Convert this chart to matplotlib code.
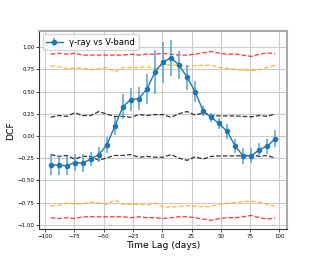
import matplotlib
matplotlib.use("Agg")
import matplotlib.pyplot as plt
import numpy as np

lags = [-95.3, -88.4, -81.6, -74.7, -67.9, -61.0, -54.2, -47.3, -40.5, -33.6,
        -26.8, -19.9, -13.1, -6.2, 0.6, 7.5, 14.3, 21.2, 28.0, 34.9,
        41.7, 48.6, 55.4, 62.3, 69.1, 76.0, 82.8, 89.7, 96.5]
dcf = [-0.325, -0.33, -0.335, -0.30, -0.305, -0.26, -0.21, -0.10, 0.11, 0.33,
       0.41, 0.42, 0.53, 0.72, 0.83, 0.88, 0.80, 0.66, 0.50, 0.28,
       0.21, 0.14, 0.05, -0.115, -0.225, -0.225, -0.155, -0.115, -0.03]
dcf_err = [0.11, 0.105, 0.105, 0.10, 0.10, 0.08, 0.085, 0.09, 0.10, 0.14,
           0.13, 0.13, 0.17, 0.25, 0.23, 0.20, 0.16, 0.14, 0.12, 0.06,
           0.05, 0.06, 0.08, 0.08, 0.09, 0.085, 0.07, 0.085, 0.10]
sig_black = [0.21, 0.23, 0.22, 0.26, 0.23, 0.23, 0.275, 0.245, 0.22, 0.22,
             0.21, 0.24, 0.23, 0.24, 0.24, 0.21, 0.25, 0.275, 0.235, 0.26,
             0.23, 0.225, 0.225, 0.225, 0.22, 0.215, 0.23, 0.22, 0.25]
sig_orange = [0.79, 0.78, 0.755, 0.765, 0.765, 0.745, 0.755, 0.77, 0.72, 0.77,
              0.77, 0.77, 0.78, 0.755, 0.80, 0.80, 0.795, 0.785, 0.79, 0.795,
              0.795, 0.77, 0.76, 0.75, 0.74, 0.735, 0.745, 0.77, 0.795]
sig_red = [0.92, 0.93, 0.92, 0.93, 0.91, 0.91, 0.91, 0.91, 0.91, 0.91,
           0.92, 0.91, 0.92, 0.92, 0.93, 0.92, 0.91, 0.91, 0.92, 0.935,
           0.95, 0.93, 0.92, 0.92, 0.91, 0.895, 0.92, 0.935, 0.925]

fig = plt.figure(figsize=(3.18, 2.58), dpi=100)
ax = fig.add_axes([0.124, 0.111, 0.777, 0.769])

ax.errorbar(lags, dcf, yerr=dcf_err, fmt='-o', color='#1f77b4', ms=3, lw=1.0,
            elinewidth=1.1, ecolor='#5a9fd4', label='γ-ray vs V-band', zorder=3)
lag_arr = np.array(lags)
for arr, col in [(sig_black, 'black'), (sig_orange, 'orange'), (sig_red, 'red')]:
    a = np.array(arr)
    ax.plot(lag_arr, a, '--', color=col, lw=0.9, alpha=0.8)
    ax.plot(lag_arr, -a, '--', color=col, lw=0.9, alpha=0.8)

ax.grid(True, color='#cccccc', lw=0.8)
ax.set_axisbelow(True)
ax.set_xticks([-100, -75, -50, -25, 0, 25, 50, 75, 100])
ax.set_yticks([-1.0, -0.75, -0.5, -0.25, 0.0, 0.25, 0.5, 0.75, 1.0])
ax.tick_params(labelsize=4.0, length=2, width=0.5, pad=1.5)
ax.set_xlabel('Time Lag (days)', fontsize=6.7, labelpad=1)
ax.set_ylabel('DCF', fontsize=6.7, labelpad=2)
ax.legend(loc='upper left', fontsize=6.0, handlelength=2.0, borderpad=0.4,
          borderaxespad=0.4)
for s in ['left', 'bottom']:
    ax.spines[s].set_color('#333333')
    ax.spines[s].set_linewidth(0.8)
for s in ['top', 'right']:
    ax.spines[s].set_color('#aaaaaa')
    ax.spines[s].set_linewidth(1.5)

fig.savefig('out.png', dpi=100)
